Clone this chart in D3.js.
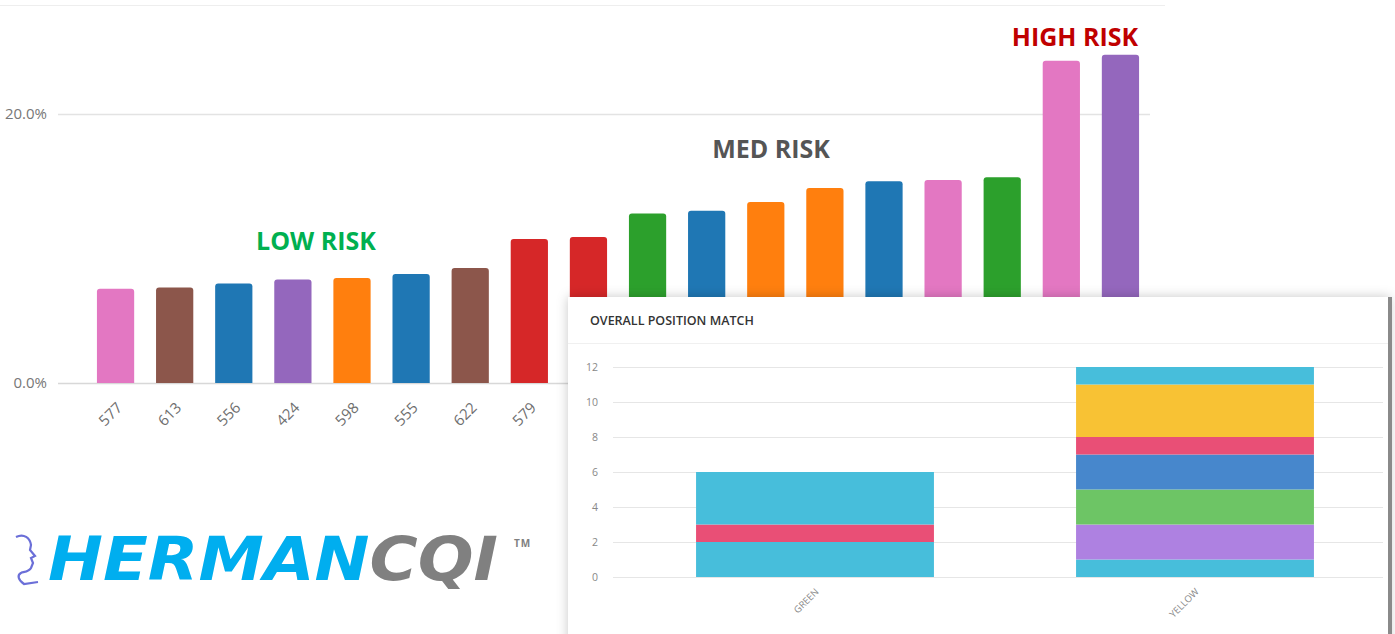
<!DOCTYPE html>
<html>
<head>
<meta charset="utf-8">
<script src="https://cdn.jsdelivr.net/npm/d3@7"></script>
<style>
  body { margin: 0; background: #fff; font-family: "Open Sans", sans-serif; }
</style>
</head>
<body>
<div id="chart"></div>
<script>
// ---- data ----
var ids = ["577", "613", "556", "424", "598", "555", "622", "579", "581", "590",
           "602", "574", "611", "549", "593", "606", "587", "615"];
var riskPct = [7.0, 7.1, 7.4, 7.7, 7.8, 8.1, 8.55, 10.7, 10.85, 12.6,
               12.8, 13.45, 14.5, 15.0, 15.1, 15.3, 23.95, 24.4];
var barColors = ["#e377c2", "#8c564b", "#1f77b4", "#9467bd", "#ff7f0e", "#1f77b4", "#8c564b", "#d62728", "#d62728", "#2ca02c",
                 "#1f77b4", "#ff7f0e", "#ff7f0e", "#1f77b4", "#e377c2", "#2ca02c", "#e377c2", "#9467bd"];
var yTicks = [0, 20];

var matchCats = ["GREEN", "YELLOW"];
var segKeys = ["s1", "s2", "s3", "s4", "s5", "s6", "s7"];
var segS1 = [2, 1];
var segS2 = [0, 2];
var segS3 = [0, 2];
var segS4 = [0, 2];
var segS5 = [1, 1];
var segS6 = [0, 3];
var segS7 = [3, 1];
var segColors = ["#47bedb", "#ae81e1", "#6dc565", "#4787cc", "#e94f76", "#f8c234", "#47bedb"];
var matchTicks = [0, 2, 4, 6, 8, 10, 12];

var W = 1395, H = 634;

var svg = d3.select("#chart").append("svg")
  .attr("width", W)
  .attr("height", H);

var defs = svg.append("defs");
var shadow = defs.append("filter").attr("id", "shadow")
  .attr("x", "-5%").attr("y", "-10%").attr("width", "110%").attr("height", "120%");
shadow.append("feDropShadow").attr("dx", 0).attr("dy", 0)
  .attr("stdDeviation", 6).attr("flood-color", "#000").attr("flood-opacity", 0.22);

// top border of the card
svg.append("line")
  .attr("x1", 0).attr("x2", 1165).attr("y1", 5.5).attr("y2", 5.5)
  .attr("stroke", "#eeeeee");

/* ****************************************
* main bar chart
**************************************** */
var x = d3.scaleBand().domain(ids).range([86, 1150]).paddingInner(0.37).paddingOuter(0.185);
var y = d3.scaleLinear().domain([0, 20]).range([383, 114]);

svg.append("g").selectAll("line")
  .data(yTicks).join("line")
  .attr("x1", 58).attr("x2", 1150)
  .attr("y1", function(d) { return y(d) + 0.5; })
  .attr("y2", function(d) { return y(d) + 0.5; })
  .attr("stroke", function(d) { return d === 0 ? "#d8d8d8" : "#e3e3e3"; })
  .attr("stroke-width", 1.5);

svg.append("g").selectAll("text")
  .data(yTicks).join("text")
  .attr("x", 47).attr("y", function(d) { return y(d); })
  .attr("dy", "0.35em")
  .attr("text-anchor", "end")
  .attr("font-size", 15)
  .attr("fill", "#777")
  .text(function(d) { return d.toFixed(1) + "%"; });

// rounded-top bar path
function topRounded(x0, y0, w, h, r) {
  return "M" + x0 + "," + (y0 + h) +
    "V" + (y0 + r) +
    "Q" + x0 + "," + y0 + " " + (x0 + r) + "," + y0 +
    "H" + (x0 + w - r) +
    "Q" + (x0 + w) + "," + y0 + " " + (x0 + w) + "," + (y0 + r) +
    "V" + (y0 + h) + "Z";
}

svg.append("g").selectAll("path")
  .data(ids).join("path")
  .attr("d", function(d, i) {
    return topRounded(x(d), y(riskPct[i]), x.bandwidth(), y(0) - y(riskPct[i]), 3);
  })
  .attr("fill", function(d, i) { return barColors[i]; });

svg.append("g").selectAll("text")
  .data(ids).join("text")
  .attr("transform", function(d) {
    return "translate(" + (x(d) + x.bandwidth() / 2 + 4) + ",405) rotate(-45)";
  })
  .attr("dy", "0.35em")
  .attr("text-anchor", "end")
  .attr("font-size", 15)
  .attr("fill", "#6e6e6e")
  .text(function(d) { return d; });

// risk annotations
var riskLabels = [
  {t: "LOW RISK", x: 316, y: 250, c: "#00b050"},
  {t: "MED RISK", x: 771, y: 158, c: "#555555"},
  {t: "HIGH RISK", x: 1075, y: 46, c: "#c00000"}
];
svg.append("g").selectAll("text")
  .data(riskLabels).join("text")
  .attr("x", function(d) { return d.x; })
  .attr("y", function(d) { return d.y; })
  .attr("text-anchor", "middle")
  .attr("font-size", 25)
  .attr("font-weight", "bold")
  .attr("fill", function(d) { return d.c; })
  .text(function(d) { return d.t; });

/* ****************************************
* logo
**************************************** */
var logo = svg.append("g");
logo.append("path")
  .attr("d", "M16,537 C24,533 30,538 31,545 L30,550 L35,556 L31,558 L33,563 L31,568 C29,572 22,572 21,573 C17,575 18,580 24,584 L38,582")
  .attr("fill", "none")
  .attr("stroke", "#6b6fd8")
  .attr("stroke-width", 2.2);
logo.append("text")
  .attr("x", 48).attr("y", 580)
  .attr("font-size", 60)
  .attr("font-weight", "bold")
  .attr("font-style", "italic")
  .attr("font-family", "DejaVu Sans, sans-serif")
  .attr("textLength", 450)
  .attr("lengthAdjust", "spacingAndGlyphs")
  .call(function(t) {
    t.append("tspan").attr("fill", "#00aeef").text("HERMAN");
    t.append("tspan").attr("fill", "#808080").text("CQI");
  });
logo.append("text")
  .attr("x", 514).attr("y", 547)
  .attr("font-size", 10)
  .attr("font-weight", "bold")
  .attr("letter-spacing", 1)
  .attr("fill", "#808080")
  .text("TM");

/* ****************************************
* inset panel: overall position match
**************************************** */
var panel = svg.append("g");
panel.append("rect")
  .attr("x", 568).attr("y", 297).attr("width", 822).attr("height", 350)
  .attr("fill", "#fff")
  .attr("filter", "url(#shadow)");
panel.append("rect")
  .attr("x", 1388).attr("y", 297).attr("width", 4).attr("height", 337)
  .attr("fill", "#8a8a8a");
panel.append("line")
  .attr("x1", 568).attr("x2", 1388).attr("y1", 343.5).attr("y2", 343.5)
  .attr("stroke", "#f0f0f0");
panel.append("text")
  .attr("x", 590).attr("y", 325)
  .attr("font-size", 12.5)
  .attr("font-weight", 600)
  .attr("fill", "#333")
  .text("OVERALL POSITION MATCH");

var x2 = d3.scaleBand().domain(matchCats).range([625, 1385]).paddingInner(0.374).paddingOuter(0.187);
var y2 = d3.scaleLinear().domain([0, 12]).range([577, 367]);

panel.append("g").selectAll("line")
  .data(matchTicks).join("line")
  .attr("x1", 613).attr("x2", 1383)
  .attr("y1", function(d) { return y2(d) + 0.5; })
  .attr("y2", function(d) { return y2(d) + 0.5; })
  .attr("stroke", "#e6e6e6");

panel.append("g").selectAll("text")
  .data(matchTicks).join("text")
  .attr("x", 598).attr("y", function(d) { return y2(d); })
  .attr("dy", "0.35em")
  .attr("text-anchor", "end")
  .attr("font-size", 10.5)
  .attr("fill", "#888")
  .text(function(d) { return d; });

var segVals = [segS1, segS2, segS3, segS4, segS5, segS6, segS7];
var table = matchCats.map(function(c, i) {
  var row = {cat: c};
  segKeys.forEach(function(k, j) { row[k] = segVals[j][i]; });
  return row;
});
var stacked = d3.stack().keys(segKeys)(table);

panel.append("g").selectAll("g")
  .data(stacked).join("g")
  .attr("fill", function(d, i) { return segColors[i]; })
  .selectAll("rect")
  .data(function(d) { return d.filter(function(s) { return s[1] > s[0]; }); })
  .join("rect")
  .attr("x", function(d) { return x2(d.data.cat); })
  .attr("y", function(d) { return y2(d[1]); })
  .attr("width", x2.bandwidth())
  .attr("height", function(d) { return y2(d[0]) - y2(d[1]); });

panel.append("g").selectAll("text")
  .data(matchCats).join("text")
  .attr("transform", function(d) {
    return "translate(" + (x2(d) + x2.bandwidth() / 2 + 2) + ",590) rotate(-45)";
  })
  .attr("dy", "0.35em")
  .attr("text-anchor", "end")
  .attr("font-size", 9.5)
  .attr("fill", "#888")
  .text(function(d) { return d; });
</script>
</body>
</html>
